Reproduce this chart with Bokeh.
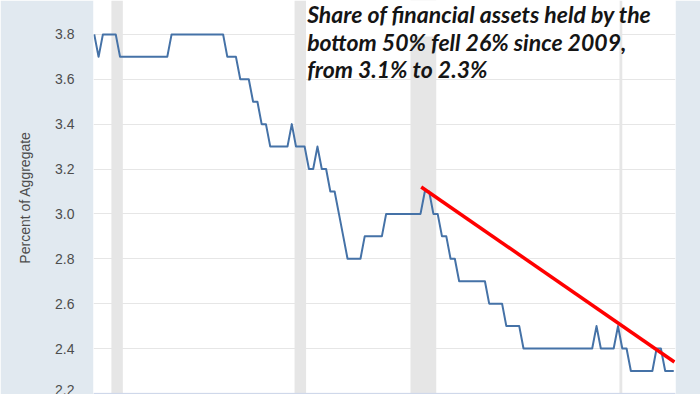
import pandas as pd
from bokeh.plotting import figure
from bokeh.models import Range1d, FixedTicker, Label, NumeralTickFormatter, Span, BoxAnnotation
from bokeh.embed import file_html
from bokeh.resources import INLINE

# ---- data (quarterly) ----
first_quarter = "1989-07-01"
share = [
    3.8, 3.7, 3.8, 3.8, 3.8, 3.8, 3.7, 3.7, 3.7, 3.7,
    3.7, 3.7, 3.7, 3.7, 3.7, 3.7, 3.7, 3.7, 3.8, 3.8,
    3.8, 3.8, 3.8, 3.8, 3.8, 3.8, 3.8, 3.8, 3.8, 3.8,
    3.8, 3.7, 3.7, 3.7, 3.6, 3.6, 3.6, 3.5, 3.5, 3.4,
    3.4, 3.3, 3.3, 3.3, 3.3, 3.3, 3.4, 3.3, 3.3, 3.3,
    3.2, 3.2, 3.3, 3.2, 3.2, 3.1, 3.1, 3.0, 2.9, 2.8,
    2.8, 2.8, 2.8, 2.9, 2.9, 2.9, 2.9, 2.9, 3.0, 3.0,
    3.0, 3.0, 3.0, 3.0, 3.0, 3.0, 3.0, 3.1, 3.1, 3.0,
    3.0, 2.9, 2.9, 2.8, 2.8, 2.7, 2.7, 2.7, 2.7, 2.7,
    2.7, 2.7, 2.6, 2.6, 2.6, 2.6, 2.5, 2.5, 2.5, 2.5,
    2.4, 2.4, 2.4, 2.4, 2.4, 2.4, 2.4, 2.4, 2.4, 2.4,
    2.4, 2.4, 2.4, 2.4, 2.4, 2.4, 2.4, 2.5, 2.4, 2.4,
    2.4, 2.4, 2.5, 2.4, 2.4, 2.3, 2.3, 2.3, 2.3, 2.3,
    2.3, 2.4, 2.4, 2.3, 2.3, 2.3,
]
dates = pd.date_range(first_quarter, periods=len(share), freq="QS")

recession_start = ["1990-07-01", "2001-03-01", "2007-12-01", "2020-02-01"]
recession_end = ["1991-03-01", "2001-11-01", "2009-06-01", "2020-04-01"]

trend_x = ["2008-07-16", "2023-04-15"]
trend_y = [3.12, 2.34]

y_ticks = [2.2, 2.4, 2.6, 2.8, 3.0, 3.2, 3.4, 3.6, 3.8]

note_lines = [
    "Share of financial assets held by the",
    "bottom 50% fell 26% since 2009,",
    "from 3.1% to 2.3%",
]
note_tops = [3.954, 3.830, 3.706]

Y_BOTTOM, Y_TOP = 2.195, 3.951


def ms(d):
    return pd.Timestamp(d).value / 1e6


p = figure(
    width=700, height=394,
    x_axis_type="datetime",
    x_range=Range1d(ms("1989-06-15"), ms("2023-05-08")),
    y_range=Range1d(Y_BOTTOM, Y_TOP),
    output_backend="svg", toolbar_location=None,
    min_border_left=93, min_border_right=25,
    min_border_top=0, min_border_bottom=0,
    border_fill_color="#e1e9f0", background_fill_color="white",
    outline_line_color=None,
)

p.xaxis.visible = False
p.xgrid.visible = False
p.ygrid.grid_line_color = "#e6e6e6"
p.ygrid.grid_line_width = 1
p.ygrid.level = "image"

ax = p.yaxis[0]
ax.ticker = FixedTicker(ticks=y_ticks)
ax.formatter = NumeralTickFormatter(format="0.0")
ax.axis_line_color = None
ax.major_tick_line_color = None
ax.minor_tick_line_color = None
ax.major_label_standoff = 13
ax.major_label_text_font = "Liberation Sans"
ax.major_label_text_font_size = "14px"
ax.major_label_text_color = "#4d4d4d"
ax.axis_label = "Percent of Aggregate"
ax.axis_label_text_font = "Liberation Sans"
ax.axis_label_text_font_style = "normal"
ax.axis_label_text_font_size = "14px"
ax.axis_label_text_color = "#4d4d4d"
ax.axis_label_standoff = 19

# recession shading
n_rec = len(recession_start)
p.quad(left=[pd.Timestamp(s) for s in recession_start],
       right=[pd.Timestamp(e) for e in recession_end],
       bottom=[Y_BOTTOM] * n_rec, top=[Y_TOP] * n_rec,
       fill_color="#e6e6e6", line_color=None)

# bottom axis line
p.add_layout(Span(location=y_ticks[0], dimension="width", line_color="#ccd6eb",
                  line_width=1))

p.line(dates, share, line_color="#4572a7", line_width=2, line_join="round")
p.line([pd.Timestamp(t) for t in trend_x], trend_y, line_color="#ff0000", line_width=3.5)

# white backing of the pasted note (covers top of the shading)
p.add_layout(BoxAnnotation(left=ms(recession_end[1]), right=ms(recession_start[3]),
                           bottom=3.79, top=Y_TOP, fill_color="#ffffff",
                           fill_alpha=1.0, line_alpha=0.0, level="annotation"))

for txt, yt in zip(note_lines, note_tops):
    p.add_layout(Label(x=ms("2001-11-24"), y=yt, text=txt,
                       text_font="Lato", text_font_style="bold italic",
                       text_font_size="23px", text_color="#151515",
                       text_baseline="top", text_align="left"))

open("out.html", "w").write(file_html(p, INLINE))
